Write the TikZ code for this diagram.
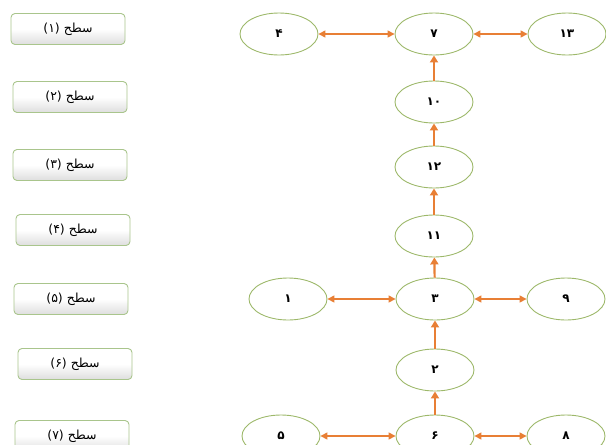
\documentclass[tikz,border=0pt]{standalone}
\usepackage{fontspec}
\newfontfamily\arabicfont[Script=Arabic]{DejaVu Sans}
\TeXXeTstate=1
\usetikzlibrary{shapes.geometric,arrows.meta}
\definecolor{ringgreen}{HTML}{9DB86A}
\definecolor{arrorange}{HTML}{E87F35}
\definecolor{boxgreen}{HTML}{A9C58C}
\tikzset{
  oval/.style={ellipse, draw=ringgreen, line width=0.9pt, minimum width=78pt, minimum height=42pt, inner sep=0pt, font=\arabicfont\bfseries\fontsize{12}{14}\selectfont},
  levelbox/.style={rectangle, rounded corners=4pt, draw=boxgreen, line width=0.9pt, top color=white, bottom color=black!13, middle color=white, minimum width=114pt, minimum height=31pt, font=\arabicfont\fontsize{12.5}{15}\selectfont},
  biarrow/.style={draw=arrorange, line width=1.5pt, {Triangle[length=7pt,width=7pt]}-{Triangle[length=7pt,width=7pt]}},
  uparrow/.style={draw=arrorange, line width=2.2pt, -{Triangle[length=7pt,width=8pt]}}
}
\begin{document}
\begin{tikzpicture}[x=1pt,y=-1pt]
\useasboundingbox (0,0) rectangle (606,445);
% level boxes
\node[levelbox] (b1) at (68,29)  {(۱)\ \beginR سطح\endR};
\node[levelbox] (b2) at (70,97)  {(۲)\ \beginR سطح\endR};
\node[levelbox] (b3) at (70,165) {(۳)\ \beginR سطح\endR};
\node[levelbox] (b4) at (73,230) {(۴)\ \beginR سطح\endR};
\node[levelbox] (b5) at (71,299) {(۵)\ \beginR سطح\endR};
\node[levelbox] (b6) at (75,364) {(۶)\ \beginR سطح\endR};
\node[levelbox] (b7) at (72,436) {(۷)\ \beginR سطح\endR};
% ellipses
\node[oval] (e4)  at (279,34)  {۴};
\node[oval] (e7)  at (434,34)  {۷};
\node[oval] (e13) at (567,34)  {۱۳};
\node[oval] (e10) at (434,102) {۱۰};
\node[oval] (e12) at (434,167) {۱۲};
\node[oval] (e11) at (434,236) {۱۱};
\node[oval] (e1)  at (288,299) {۱};
\node[oval] (e3)  at (435,299) {۳};
\node[oval] (e9)  at (566,299) {۹};
\node[oval] (e2)  at (435,370) {۲};
\node[oval] (e5)  at (281,436) {۵};
\node[oval] (e6)  at (435,436) {۶};
\node[oval] (e8)  at (566,436) {۸};
% connectors
\draw[biarrow] (e4) -- (e7);
\draw[biarrow] (e7) -- (e13);
\draw[biarrow] (e1) -- (e3);
\draw[biarrow] (e3) -- (e9);
\draw[biarrow] (e5) -- (e6);
\draw[biarrow] (e6) -- (e8);
\draw[uparrow] (e10) -- (e7);
\draw[uparrow] (e12) -- (e10);
\draw[uparrow] (e11) -- (e12);
\draw[uparrow] (e3) -- (e11);
\draw[uparrow] (e2) -- (e3);
\draw[uparrow] (e6) -- (e2);
\end{tikzpicture}
\end{document}
